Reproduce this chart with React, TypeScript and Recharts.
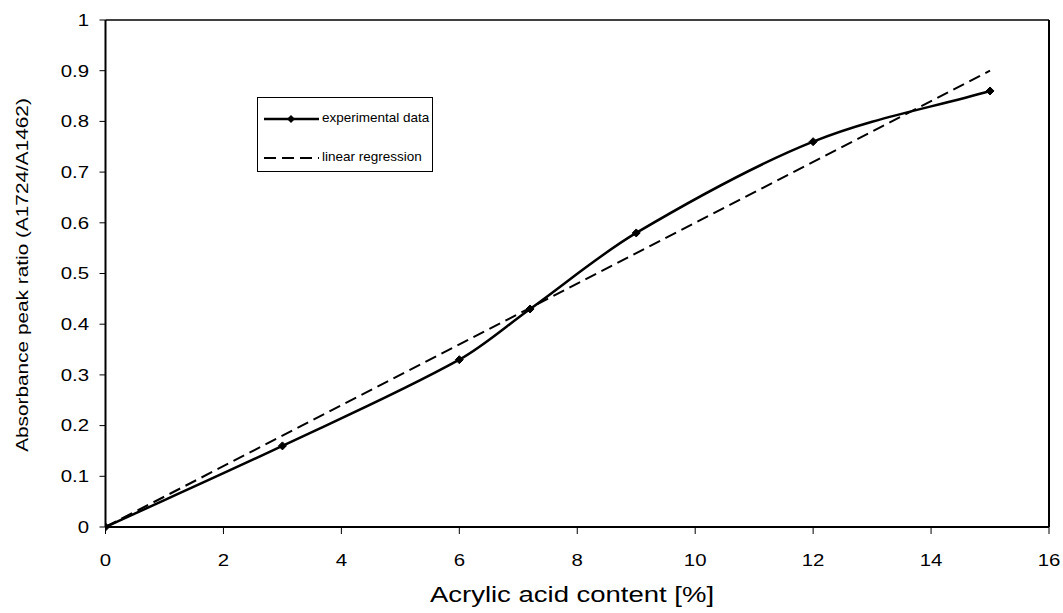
import React from 'react';
import { LineChart, Line, XAxis, YAxis, ReferenceLine } from 'recharts';

// acrylic acid content [%]
const contentX = [0, 3, 6, 7.2, 9, 12, 15];
// measured absorbance peak ratio A1724/A1462
const peakRatio = [0, 0.16, 0.33, 0.43, 0.58, 0.76, 0.86];
// regression line end points
const regX = [0, 15];
const regY = [0, 0.9];

const xTicks = [0, 2, 4, 6, 8, 10, 12, 14, 16];
const yTicks = [0, 0.1, 0.2, 0.3, 0.4, 0.5, 0.6, 0.7, 0.8, 0.9, 1];

const expData = contentX.map((x, i) => ({ x, y: peakRatio[i] }));
const regData = regX.map((x, i) => ({ x, y: regY[i] }));

const FONT = '"Liberation Sans", Arial, sans-serif';

// smoothed line: cubic hermite with finite-difference slopes
const smoothCurve = (context: any) => {
  let pts: number[][] = [];
  return {
    areaStart() {},
    areaEnd() {},
    lineStart() {
      pts = [];
    },
    point(x: number, y: number) {
      pts.push([+x, +y]);
    },
    lineEnd() {
      const n = pts.length;
      if (!n) return;
      context.moveTo(pts[0][0], pts[0][1]);
      if (n === 1) return;
      const m = pts.map((p, i) => {
        const a = pts[Math.max(i - 1, 0)];
        const b = pts[Math.min(i + 1, n - 1)];
        return (b[1] - a[1]) / (b[0] - a[0]);
      });
      for (let i = 0; i < n - 1; i++) {
        const p1 = pts[i];
        const p2 = pts[i + 1];
        const h = (p2[0] - p1[0]) / 3;
        context.bezierCurveTo(p1[0] + h, p1[1] + m[i] * h, p2[0] - h, p2[1] - m[i + 1] * h, p2[0], p2[1]);
      }
    },
  };
};

const Diamond = (props: any) => {
  const { cx, cy, index } = props;
  const s = 4;
  return (
    <path
      key={`d-${index}`}
      d={`M${cx},${cy - s}L${cx + s},${cy}L${cx},${cy + s}L${cx - s},${cy}Z`}
      fill="#000"
      stroke="#000"
    />
  );
};

const XTick = (props: any) => {
  const { x, y, payload } = props;
  return (
    <text
      transform={`translate(${x},${y + 26}) scale(1.2,1)`}
      textAnchor="middle"
      dominantBaseline="central"
      fontSize={17}
      fontFamily={FONT}
      fill="#000"
    >
      {payload.value}
    </text>
  );
};

const YTick = (props: any) => {
  const { y, payload } = props;
  return (
    <text
      transform={`translate(89,${y}) scale(1.2,1)`}
      textAnchor="end"
      dominantBaseline="central"
      fontSize={17}
      fontFamily={FONT}
      fill="#000"
    >
      {payload.value}
    </text>
  );
};

const LegendBox = () => (
  <div
    style={{
      position: 'absolute',
      left: 257,
      top: 97,
      width: 176,
      height: 75,
      border: '1.5px solid #000',
      boxSizing: 'border-box',
      background: '#fff',
      fontFamily: FONT,
      fontSize: 13.5,
      color: '#000',
    }}
  >
    <svg width={60} height={75} style={{ position: 'absolute', left: 4, top: 0 }}>
      <line x1={2} y1={21} x2={57} y2={21} stroke="#000" strokeWidth={2.5} />
      <path d="M29,17L33,21L29,25L25,21Z" fill="#000" />
      <line x1={2} y1={60} x2={57} y2={60} stroke="#000" strokeWidth={2} strokeDasharray="12 6" />
    </svg>
    <div style={{ position: 'absolute', left: 64, top: 12, whiteSpace: 'nowrap' }}>experimental data</div>
    <div style={{ position: 'absolute', left: 64, top: 51, whiteSpace: 'nowrap' }}>linear regression</div>
  </div>
);

export default function App() {
  return (
    <div style={{ position: 'absolute', left: 0, top: 0, width: 1063, height: 613, background: '#fff' }}>
      <LineChart width={1063} height={613} margin={{ top: 20, right: 14, left: 0, bottom: 0 }}>
        <XAxis
          dataKey="x"
          type="number"
          domain={[0, 16]}
          ticks={xTicks}
          allowDataOverflow
          height={86}
          tickSize={7}
          tickMargin={0}
          axisLine={{ stroke: '#000', strokeWidth: 2 }}
          tickLine={{ stroke: '#000' }}
          tick={<XTick />}
        />
        <YAxis
          type="number"
          domain={[0, 1]}
          ticks={yTicks}
          width={105.5}
          tickSize={6}
          axisLine={{ stroke: '#000', strokeWidth: 2 }}
          tickLine={{ stroke: '#000' }}
          tick={<YTick />}
        />
        <ReferenceLine y={1} stroke="#000" strokeWidth={1.5} />
        <ReferenceLine x={16} stroke="#000" strokeWidth={2} />
        <Line
          data={regData}
          dataKey="y"
          type="linear"
          stroke="#000"
          strokeWidth={2}
          strokeDasharray="12 6"
          dot={false}
          isAnimationActive={false}
        />
        <Line
          data={expData}
          dataKey="y"
          type={smoothCurve as any}
          stroke="#000"
          strokeWidth={2.5}
          dot={Diamond}
          activeDot={false}
          isAnimationActive={false}
        />
        <text
          transform="translate(22,275) rotate(-90) scale(1.3,1)"
          textAnchor="middle"
          dominantBaseline="central"
          fontSize={16}
          fontFamily={FONT}
          fill="#000"
        >
          Absorbance peak ratio (A1724/A1462)
        </text>
        <text
          transform="translate(572,594) scale(1.25,1)"
          textAnchor="middle"
          dominantBaseline="central"
          fontSize={22}
          fontFamily={FONT}
          fill="#000"
        >
          Acrylic acid content [%]
        </text>
      </LineChart>
      <LegendBox />
    </div>
  );
}
